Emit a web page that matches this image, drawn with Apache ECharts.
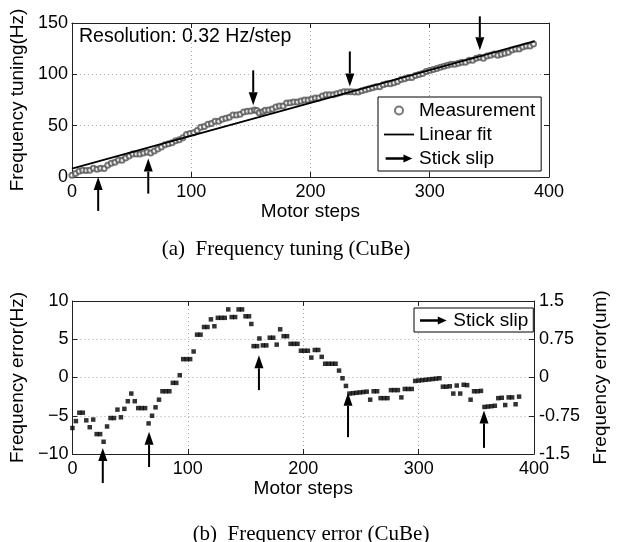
<!DOCTYPE html>
<html>
<head>
<meta charset="utf-8">
<script src="https://cdn.jsdelivr.net/npm/echarts@6/dist/echarts.min.js"></script>
<style>
  html, body { margin: 0; padding: 0; background: #fff; }
  #main { width: 618px; height: 542px; }
</style>
</head>
<body>
<div id="main"></div>
<script>
// Motor step of each sample
const steps = [
  0, 3, 6, 9, 12, 15, 18, 21, 24, 27, 30, 33, 36, 39, 42, 45, 48, 51, 54, 57,
  60, 63, 66, 69, 72, 75, 78, 81, 84, 87, 90, 93, 96, 99, 102, 105, 108, 111, 114, 117,
  120, 123, 126, 129, 132, 135, 138, 141, 144, 147, 150, 153, 155, 157, 160, 162, 165, 168, 171, 174,
  177, 180, 183, 186, 189, 192, 195, 198, 201, 204, 207, 210, 213, 216, 219, 222, 225, 228, 231, 234,
  237, 240, 243, 246, 249, 252, 255, 258, 261, 264, 267, 270, 273, 276, 279, 282, 285, 288, 291, 294,
  297, 300, 303, 306, 309, 312, 315, 318, 321, 324, 327, 330, 333, 336, 339, 342, 345, 348, 351, 354,
  357, 360, 363, 366, 369, 372, 375, 378, 381, 384, 387
];
// (a) measured frequency tuning, Hz
const tuningHz = [
  1.6, 3.5, 5.5, 6.5, 6.4, 6.5, 8.5, 7.5, 8.5, 8.4, 11.4, 13.5, 14.4, 16.5, 16.4, 18.5, 20.5, 22.4, 22.4, 22.4,
  23.4, 24.4, 23.3, 25.3, 27.3, 29.3, 31.4, 32.3, 33.3, 35.3, 36.3, 38.3, 41.3, 42.3, 43.2, 45.2, 48.4, 49.3, 51.3, 52.2,
  54.2, 54.3, 56.3, 57.3, 58.2, 60.3, 60.3, 61.2, 63.2, 64.1, 64.2, 65.2, 64.8, 62.5, 63.5, 65.1, 65.2, 66.2, 68.1, 69.1,
  69.1, 72.1, 72.2, 73.1, 73.1, 74.0, 75.0, 75.1, 76.0, 77.0, 77.0, 79.0, 80.0, 80.0, 80.1, 81.0, 82.0, 83.0, 83.0, 83.0,
  82.9, 82.9, 83.9, 84.9, 85.9, 86.9, 88.0, 87.9, 89.9, 90.9, 90.9, 91.9, 92.9, 94.9, 95.8, 96.8, 96.8, 98.9, 99.8, 100.8,
  102.8, 103.8, 104.8, 105.8, 106.8, 107.8, 108.9, 109.9, 109.7, 110.7, 111.7, 111.7, 113.7, 113.6, 115.7, 116.6, 115.7, 117.8, 118.7, 119.7,
  118.6, 119.6, 120.6, 121.6, 123.6, 124.6, 124.6, 126.6, 127.5, 127.6, 129.5
];
// (b) frequency error, Hz
const errorHz = [
  -6.6, -5.7, -4.6, -4.6, -5.6, -6.5, -5.5, -7.4, -7.4, -8.4, -6.4, -5.3, -5.3, -4.2, -5.2, -4.1, -3.1, -2.1, -3.1, -4.0,
  -4.0, -4.0, -6.0, -5.0, -3.9, -2.9, -1.8, -1.8, -1.8, -0.7, -0.7, 0.3, 2.4, 2.4, 2.4, 3.4, 5.6, 5.6, 6.6, 6.6,
  7.6, 6.7, 7.8, 7.8, 7.8, 8.9, 7.9, 7.9, 8.9, 8.9, 8.0, 8.0, 7.0, 4.1, 4.1, 5.1, 4.2, 4.2, 5.2, 5.2,
  4.3, 6.3, 5.4, 5.4, 4.4, 4.4, 4.4, 3.5, 3.5, 3.5, 2.6, 3.6, 3.6, 2.7, 1.8, 1.8, 1.8, 1.8, 0.9, -0.1,
  -1.1, -2.1, -2.05, -2.0, -1.95, -1.9, -1.85, -2.9, -1.8, -1.8, -2.7, -2.7, -2.7, -1.65, -1.65, -1.65, -2.6, -1.5, -1.5, -1.5,
  -0.45, -0.4, -0.35, -0.3, -0.25, -0.2, -0.15, -0.1, -1.2, -1.2, -1.15, -2.1, -1.05, -2.1, -0.95, -1.0, -2.9, -1.8, -1.8, -1.75,
  -3.85, -3.8, -3.75, -3.7, -2.7, -2.65, -3.6, -2.6, -2.6, -3.5, -2.5
];
// linear fit end points
const fitSteps = [0, 388];
const fitHz = [8.2, 132.4];

// stick slip arrows: step, tail value, tip value
const slipTopSteps = [22, 64, 152, 233, 342];
const slipTopFrom = [-33, -16.2, 103.9, 122.3, 156.5];
const slipTopTo = [0, 17.9, 69.8, 88.2, 123.4];
const slipBotSteps = [26.3, 66.4, 161.6, 238.8, 356.6];
const slipBotFrom = [-13.8, -11.7, -1.65, -7.8, -9.2];
const slipBotTo = [-9.2, -7.1, 2.9, -2.0, -4.3];

const FONT = 'Liberation Sans';
const arrowIcon = 'path://M0,3.2 L20,3.2 L20,0 L30,4.5 L20,9 L20,5.8 L0,5.8 Z';
const lineIcon = 'path://M0,3.6 L30,3.6 L30,5.4 L0,5.4 Z';

const chart = echarts.init(document.getElementById('main'));

function renderArrow(params, api) {
  const tail = api.coord([api.value(0), api.value(1)]);
  const tip = api.coord([api.value(0), api.value(2)]);
  const dir = tip[1] > tail[1] ? 1 : -1;
  const base = tip[1] - dir * 13;
  return {
    type: 'group',
    children: [
      { type: 'line', shape: { x1: tail[0], y1: tail[1], x2: tip[0], y2: base },
        style: { stroke: '#000', lineWidth: 2 } },
      { type: 'polygon', shape: { points: [[tip[0], tip[1]], [tip[0] - 4.5, base], [tip[0] + 4.5, base]] },
        style: { fill: '#000' } }
    ]
  };
}

const gridLine = { show: true, lineStyle: { color: '#a8a8a8', type: [1, 3], width: 1 } };
const axisLine = { show: true, onZero: false, lineStyle: { color: '#222', width: 1 } };
const tickIn = { show: true, inside: true, length: 5, lineStyle: { color: '#222' } };
const tickLabel = { color: '#000', fontSize: 18, fontFamily: FONT };
const nameText = { color: '#000', fontSize: 19, fontFamily: FONT };

function xPair(grid, nameGap) {
  return [
    { gridIndex: grid, type: 'value', position: 'bottom', min: 0, max: 400, interval: 100,
      name: 'Motor steps', nameLocation: 'middle', nameGap: nameGap, nameTextStyle: nameText,
      axisLine: axisLine, axisTick: tickIn, axisLabel: Object.assign({ margin: 6 }, tickLabel),
      splitLine: gridLine },
    { gridIndex: grid, type: 'value', position: 'top', min: 0, max: 400, interval: 100,
      axisLine: axisLine, axisTick: tickIn, axisLabel: { show: false }, splitLine: { show: false } }
  ];
}

const option = {
  animation: false,
  backgroundColor: '#fff',
  textStyle: { fontFamily: FONT },
  grid: [
    { left: 68, top: 23, width: 481, height: 154 },
    { left: 64.5, top: 301, width: 481.5, height: 153 }
  ],
  xAxis: xPair(0, 22).concat(xPair(1, 22)),
  yAxis: [
    { gridIndex: 0, type: 'value', position: 'left', min: 0, max: 150, interval: 50,
      name: 'Frequency tuning(Hz)', nameLocation: 'middle', nameGap: 40, nameTextStyle: nameText,
      axisLine: axisLine, axisTick: tickIn, axisLabel: Object.assign({ margin: 4 }, tickLabel),
      splitLine: gridLine },
    { gridIndex: 0, type: 'value', position: 'right', min: 0, max: 150, interval: 50,
      axisLine: axisLine, axisTick: tickIn, axisLabel: { show: false }, splitLine: { show: false } },
    { gridIndex: 1, type: 'value', position: 'left', min: -10, max: 10, interval: 5,
      name: 'Frequency error(Hz)', nameLocation: 'middle', nameGap: 39, nameTextStyle: nameText,
      axisLine: axisLine, axisTick: tickIn,
      axisLabel: Object.assign({ margin: 4, formatter: v => String(v).replace('-', '\u2212') }, tickLabel),
      splitLine: gridLine },
    { gridIndex: 1, type: 'value', position: 'right', min: -1.5, max: 1.5, interval: 0.75,
      name: 'Frequency error(um)', nameLocation: 'middle', nameGap: 50, nameTextStyle: nameText,
      axisLine: axisLine, axisTick: tickIn, axisLabel: Object.assign({ margin: 5 }, tickLabel),
      splitLine: { show: false } }
  ],
  legend: [
    { orient: 'vertical', left: 378, top: 97, itemWidth: 30, itemHeight: 8, itemGap: 5,
      padding: [4, 6, 3, 6], borderColor: '#000', borderWidth: 1, backgroundColor: '#fff',
      textStyle: nameText, selectedMode: false,
      data: ['Measurement', { name: 'Linear fit', icon: lineIcon }, { name: 'Stick slip', icon: arrowIcon }] },
    { orient: 'vertical', left: 414, top: 308, itemWidth: 30, itemHeight: 8,
      padding: [3, 5, 2, 6], borderColor: '#000', borderWidth: 1, backgroundColor: '#fff',
      textStyle: nameText, selectedMode: false,
      data: [{ name: 'Stick slip', icon: arrowIcon }] }
  ],
  graphic: [
    { type: 'text', x: 79, y: 37, style: { text: 'Resolution: 0.32 Hz/step', fill: '#000',
      font: '19.5px "' + FONT + '"', textVerticalAlign: 'middle' } },
    { type: 'text', x: 286, y: 249, style: { text: '(a)  Frequency tuning (CuBe)', fill: '#000',
      font: '21px "Liberation Serif"', textAlign: 'center', textVerticalAlign: 'middle' } },
    { type: 'text', x: 311, y: 534, style: { text: '(b)  Frequency error (CuBe)', fill: '#000',
      font: '21px "Liberation Serif"', textAlign: 'center', textVerticalAlign: 'middle' } }
  ],
  series: [
    { name: 'Measurement', type: 'scatter', xAxisIndex: 0, yAxisIndex: 0,
      symbol: 'emptyCircle', symbolSize: 5, itemStyle: { color: '#555', borderWidth: 1 },
      data: steps.map((s, i) => [s, tuningHz[i]]) },
    { name: 'Linear fit', type: 'line', xAxisIndex: 0, yAxisIndex: 0, symbol: 'none', z: 3,
      lineStyle: { color: '#000', width: 1.8 }, itemStyle: { color: '#000' },
      data: fitSteps.map((s, i) => [s, fitHz[i]]) },
    { name: 'Stick slip', type: 'custom', xAxisIndex: 0, yAxisIndex: 0, clip: false, z: 4,
      itemStyle: { color: '#000' }, renderItem: renderArrow, encode: { x: 0, y: [1, 2] },
      data: slipTopSteps.map((s, i) => [s, slipTopFrom[i], slipTopTo[i]]) },
    { name: 'Frequency error', type: 'scatter', xAxisIndex: 2, yAxisIndex: 2,
      symbol: 'rect', symbolSize: 4.5, itemStyle: { color: '#000' },
      data: steps.map((s, i) => [s, errorHz[i]]) },
    { name: 'Stick slip', type: 'custom', xAxisIndex: 2, yAxisIndex: 2, clip: false, z: 4,
      itemStyle: { color: '#000' }, renderItem: renderArrow, encode: { x: 0, y: [1, 2] },
      data: slipBotSteps.map((s, i) => [s, slipBotFrom[i], slipBotTo[i]]) }
  ]
};

chart.setOption(option);
</script>
</body>
</html>
